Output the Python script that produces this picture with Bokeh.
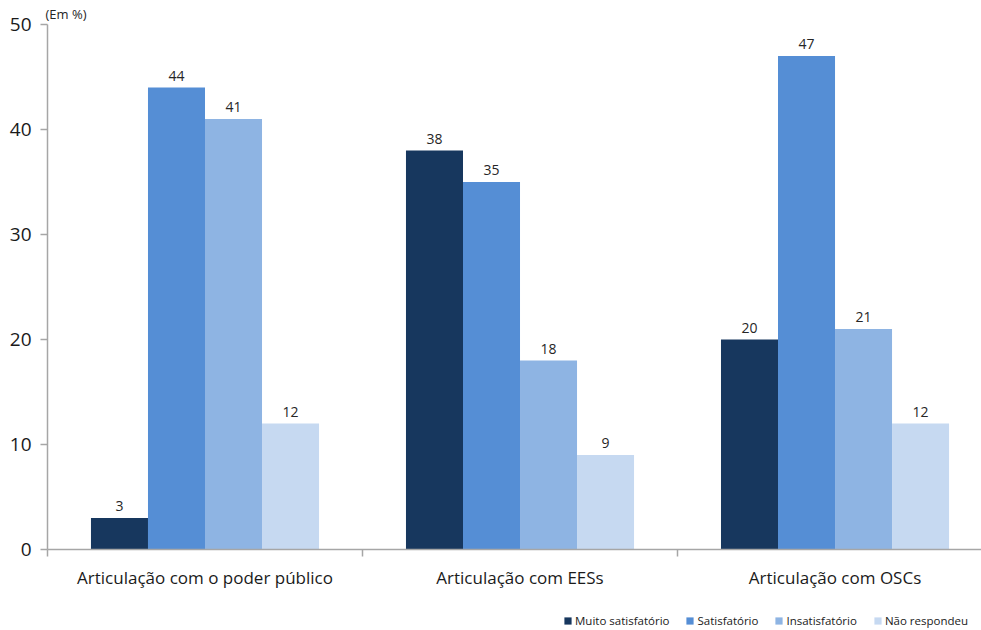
from bokeh.plotting import figure
from bokeh.layouts import column
from bokeh.models import ColumnDataSource, FixedTicker, Legend, LegendItem, LabelSet
from bokeh.core.properties import value
from bokeh.transform import dodge
from bokeh.embed import file_html
from bokeh.resources import INLINE

categories = ["Articulação com o poder público", "Articulação com EESs", "Articulação com OSCs"]
series = ["Muito satisfatório", "Satisfatório", "Insatisfatório", "Não respondeu"]
muito_satisfatorio = [3, 38, 20]
satisfatorio = [44, 35, 47]
insatisfatorio = [41, 18, 21]
nao_respondeu = [12, 9, 12]
y_ticks = [0, 10, 20, 30, 40, 50]

colors = ["#17375E", "#558ED5", "#8EB4E3", "#C6D9F1"]
values = [muito_satisfatorio, satisfatorio, insatisfatorio, nao_respondeu]
centers = [i + 0.5 for i in range(len(categories))]

FONT = "Open Sans"

p = figure(width=981, height=602, x_range=(0, 2.965), y_range=(0, 50),
           output_backend="svg", toolbar_location=None, title="(Em %)",
           min_border_left=47, min_border_right=0, min_border_top=24, min_border_bottom=53)
p.outline_line_color = None
p.xgrid.grid_line_color = None
p.ygrid.grid_line_color = None
p.background_fill_color = "white"
p.border_fill_color = "white"
p.title.text_font = FONT
p.title.text_font_size = "13px"
p.title.text_font_style = "normal"
p.title.text_color = "#262626"
p.title.align = "left"
p.title.offset = -2
p.title.standoff = 3

# legend-only strip below the chart
leg = figure(width=981, height=28, x_range=(0, 1), y_range=(1000, 1001),
             output_backend="svg", toolbar_location=None,
             x_axis_type=None, y_axis_type=None, min_border=0)
leg.outline_line_color = None
leg.grid.visible = False
leg.border_fill_color = "white"

bw = 0.181
offsets = [-1.5 * bw, -0.5 * bw, 0.5 * bw, 1.5 * bw]
items = []
for name, vals, col, off in zip(series, values, colors, offsets):
    src = ColumnDataSource(dict(x=centers, top=vals, lab=[str(v) for v in vals]))
    p.vbar(x=dodge("x", off, range=p.x_range), top="top", width=bw, bottom=0,
           source=src, fill_color=col, line_color=None)
    lr = leg.vbar(x="x", top="top", width=bw, bottom=0, source=src,
                  fill_color=col, line_color=None)
    items.append(LegendItem(label=name, renderers=[lr]))
    ls = LabelSet(x=dodge("x", off, range=p.x_range), y="top", text="lab", source=src,
                  text_align="center", text_baseline="bottom", y_offset=7,
                  text_font=value(FONT), text_font_size="14px", text_color="#262626")
    p.add_layout(ls)

# axes
p.xaxis.ticker = FixedTicker(ticks=centers, minor_ticks=[0, 1, 2, 3])
p.xaxis.major_label_overrides = {c: cat for c, cat in zip(centers, categories)}
p.xaxis.major_tick_line_color = None
p.xaxis.minor_tick_line_color = "#A6A6A6"
p.xaxis.minor_tick_line_width = 1.5
p.xaxis.minor_tick_out = 7
p.xaxis.minor_tick_in = 0
p.xaxis.axis_line_color = "#A6A6A6"
p.xaxis.axis_line_width = 1.5
p.xaxis.major_label_text_font = FONT
p.xaxis.major_label_text_font_size = "17px"
p.xaxis.major_label_text_color = "#1a1a1a"
p.xaxis.major_label_standoff = 9

p.yaxis.ticker = FixedTicker(ticks=y_ticks)
p.yaxis.minor_tick_line_color = None
p.yaxis.major_tick_line_color = "#A6A6A6"
p.yaxis.major_tick_line_width = 1.5
p.yaxis.major_tick_out = 7
p.yaxis.major_tick_in = 0
p.yaxis.axis_line_color = "#A6A6A6"
p.yaxis.axis_line_width = 1.5
p.yaxis.major_label_text_font = FONT
p.yaxis.major_label_text_font_size = "19px"
p.yaxis.major_label_text_color = "#1a1a1a"
p.yaxis.major_label_standoff = 9

legend = Legend(items=items, orientation="horizontal", location=(516, 2),
                label_text_font=FONT, label_text_font_size="11.5px", label_text_color="#1a1a1a",
                glyph_width=9, glyph_height=9, spacing=16, label_standoff=3,
                label_height=12, padding=0, margin=0, border_line_color=None,
                background_fill_alpha=0)
leg.add_layout(legend)

layout = column(p, leg, spacing=0)
open("out.html", "w").write(file_html(layout, INLINE))
